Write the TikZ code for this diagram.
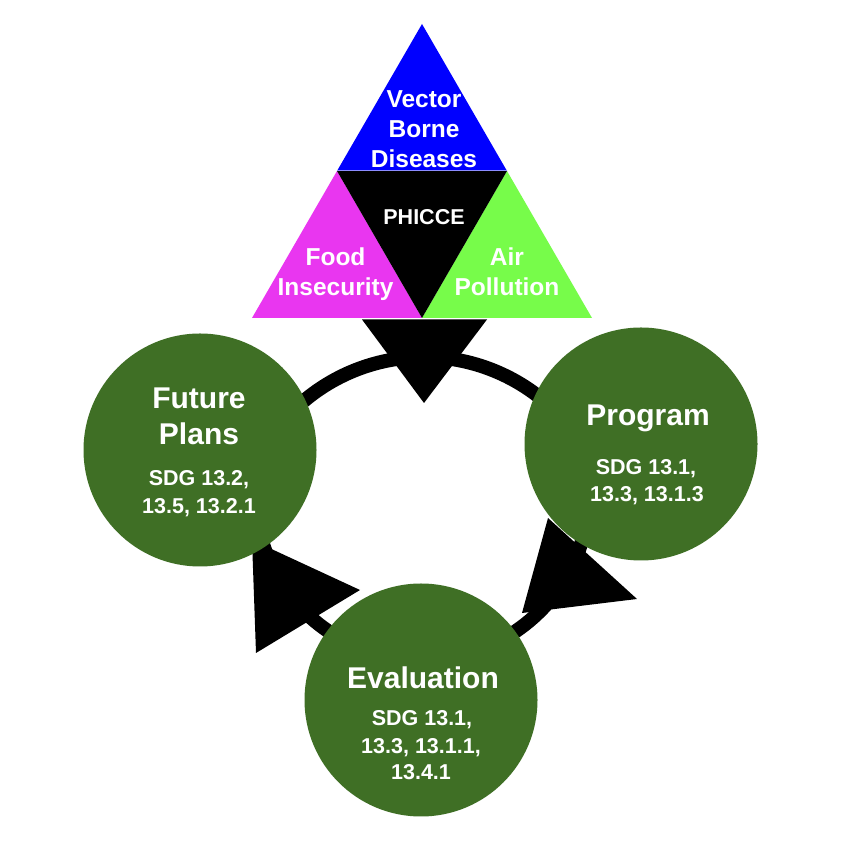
\documentclass[tikz,border=0pt]{standalone}
\usepackage{fontspec}
\setmainfont{Liberation Sans}
\definecolor{cgreen}{HTML}{3F6F25}
\definecolor{tblue}{HTML}{0000FF}
\definecolor{tmag}{HTML}{E936F0}
\definecolor{tlime}{HTML}{77FC4A}
\definecolor{tline}{HTML}{8C8CFF}
\begin{document}
\begin{tikzpicture}[x=1pt,y=1pt,
  lbl/.style={text=white,inner sep=0pt,anchor=base},
  ttl/.style={lbl,font=\fontsize{30}{36}\selectfont\bfseries},
  sdg/.style={lbl,font=\fontsize{21.5}{26}\selectfont\bfseries},
  trt/.style={lbl,font=\fontsize{24.5}{30}\selectfont\bfseries},
  phi/.style={lbl,font=\fontsize{21.5}{26}\selectfont\bfseries},
  stage/.style={circle,fill=cgreen,draw=none,inner sep=0pt,minimum size=233pt},
  ring/.style={line width=14pt,black,line cap=butt},
  head/.style={fill=black}]
\useasboundingbox (0,0) rectangle (848,848);
\fill[white] (0,0) rectangle (848,848);
% ring arcs
\draw[ring] (424,305) ++(155:186) arc[start angle=155,end angle=25,radius=186];
\draw[ring] (422,355) ++(185:167) arc[start angle=185,end angle=250,radius=167];
\draw[ring] (422,355) ++(290:167) arc[start angle=290,end angle=355,radius=167];
% arrow heads
\coordinate (la1) at (252,308); \coordinate (la2) at (360,258); \coordinate (la3) at (256,195);
\fill[head] (la1) -- (la2) -- (la3) -- cycle;
\coordinate (ra1) at (548,330); \coordinate (ra2) at (637,249); \coordinate (ra3) at (522,235);
\fill[head] (ra1) -- (ra2) -- (ra3) -- cycle;
\coordinate (ta1) at (362,528.5); \coordinate (ta2) at (487,528.5); \coordinate (ta3) at (424,445);
\fill[head] (ta1) -- (ta2) -- (ta3) -- cycle;
% stage circles
\node[stage] (fp) at (200,398) {};
\node[stage] (pg) at (641,404) {};
\node[stage] (ev) at (421,148) {};
% triangle group
\coordinate (ap) at (422,824);
\coordinate (ml) at (337,677); \coordinate (mr) at (507,677);
\coordinate (bl) at (252,530); \coordinate (bm) at (422,530); \coordinate (br) at (592,530);
\fill[tblue] (ap) -- (ml) -- (mr) -- cycle;
\fill[tmag] (ml) -- (bl) -- (bm) -- cycle;
\fill[tlime] (mr) -- (bm) -- (br) -- cycle;
\fill[black] (ml) -- (mr) -- (bm) -- cycle;
\draw[tline,line width=1pt] (ml) -- (mr);
% triangle texts
\node[trt] (v1) at (424,740.7) {Vector};
\node[trt] (v2) at (424,710.7) {Borne};
\node[trt] (v3) at (424,680.7) {Diseases};
\node[phi] (ph) at (424,623) {PHICCE};
\node[trt] (f1) at (335.5,582) {Food};
\node[trt] (f2) at (335.5,552) {Insecurity};
\node[trt] (a1) at (507,582) {Air};
\node[trt] (a2) at (507,552) {Pollution};
% circle texts
\node[ttl] (fpt1) at (199,439.7) {Future};
\node[ttl] (fpt2) at (199,403) {Plans};
\node[sdg] (fps1) at (199,362) {SDG 13.2,};
\node[sdg] (fps2) at (199,334.7) {13.5, 13.2.1};
\node[ttl] (pgt) at (648,422) {Program};
\node[sdg] (pgs1) at (646,373) {SDG 13.1,};
\node[sdg] (pgs2) at (647,346.3) {13.3, 13.1.3};
\node[ttl] (evt) at (423,159.7) {Evaluation};
\node[sdg] (evs1) at (422,122.3) {SDG 13.1,};
\node[sdg] (evs2) at (421,94.7) {13.3, 13.1.1,};
\node[sdg] (evs3) at (421,68) {13.4.1};
\end{tikzpicture}
\end{document}
